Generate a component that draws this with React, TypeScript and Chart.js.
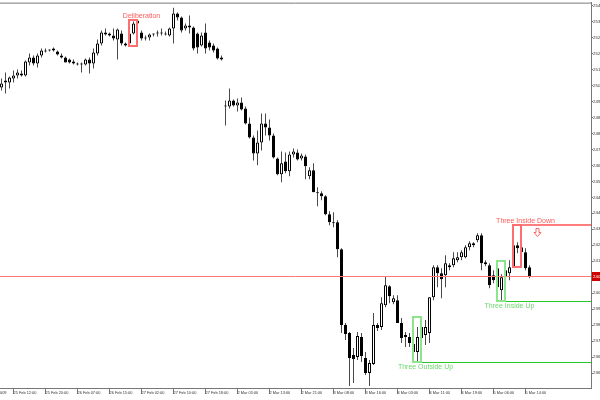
import React, { useEffect, useRef } from "react";
import { Chart, registerables } from "chart.js";

Chart.register(...registerables);

// ---- Hourly candles (price values) ----
const openP = [
  2503, 2505.5, 2505.5, 2507.5, 2509, 2510, 2509, 2515.5, 2518, 2515,
  2519, 2521, 2521.5, 2521.5, 2521, 2519, 2518, 2517, 2516, 2515,
  2515, 2514.5, 2517, 2515, 2520, 2525, 2530.5, 2530, 2529, 2527,
  2530, 2524, 2525, 2530, 2535, 2530.5, 2527.5, 2528, 2529.5, 2530,
  2530, 2530, 2529, 2532.5, 2540, 2538, 2532.5, 2533, 2533, 2530,
  2524, 2530.5, 2525.5, 2524, 2522.5, 2517, 2493.5, 2493.5, 2496.5, 2494,
  2495.5, 2492.5, 2485, 2478, 2470, 2475.5, 2485, 2483, 2479, 2467.5,
  2459.5, 2466, 2461, 2469.5, 2470.5, 2467.5, 2468.5, 2458.5, 2461.5, 2450.5,
  2450, 2448.5, 2439.5, 2435.5, 2435.5, 2422, 2384, 2380, 2369, 2368,
  2378, 2367.5, 2360, 2364.5, 2384, 2383, 2394, 2403.5, 2395.5, 2396.5,
  2385, 2379, 2378, 2374.5, 2370.5, 2377.5, 2379, 2380, 2398, 2413,
  2410, 2409, 2414, 2414, 2416.5, 2418, 2418, 2423, 2424, 2426.5,
  2429, 2415.5, 2414, 2409, 2412.5, 2401.5, 2408, 2410, 2413, 2424,
  2423, 2420.5, 2413,
];
const highP = [
  2507.5, 2510.5, 2508.5, 2511.5, 2512, 2511.5, 2516.5, 2520, 2519, 2520,
  2522.5, 2522.5, 2522, 2523, 2521.5, 2520, 2518.5, 2517.5, 2517, 2515.5,
  2515.5, 2517.5, 2518, 2522.5, 2527, 2531.5, 2532.5, 2530.5, 2532.5, 2532.5,
  2531.5, 2525.5, 2531, 2536, 2537, 2531.5, 2529, 2530, 2530, 2531.5,
  2532.5, 2531, 2533, 2543, 2540.5, 2538.5, 2535, 2539, 2533.5, 2530.5,
  2530.5, 2535, 2526.5, 2525, 2523, 2519, 2496.5, 2502.5, 2497, 2497.5,
  2498, 2493.5, 2488, 2479, 2481.5, 2490, 2490, 2487, 2480, 2468,
  2471, 2470.5, 2471, 2472.5, 2472, 2470, 2469.5, 2463, 2465, 2453,
  2451, 2449, 2441, 2440.5, 2436.5, 2422.5, 2385, 2380.5, 2372.5, 2380.5,
  2380, 2370.5, 2366.5, 2390, 2385, 2398, 2408.5, 2404, 2399, 2399,
  2387.5, 2380.5, 2380, 2376.5, 2383, 2388, 2386.5, 2398, 2414, 2414,
  2412.5, 2419, 2415, 2420.5, 2420.5, 2421.5, 2424, 2426, 2425.5, 2430,
  2430, 2416.5, 2415, 2411.5, 2416, 2409.5, 2414, 2416.5, 2434, 2425.5,
  2425, 2422.5, 2414,
];
const lowP = [
  2501.5, 2500, 2502.5, 2505.5, 2507.5, 2508.5, 2508.5, 2514, 2514, 2513,
  2518, 2520.5, 2521, 2521, 2519, 2517.5, 2515.5, 2515, 2514.5, 2514,
  2510.5, 2514, 2510, 2512.5, 2519, 2524, 2529, 2528.5, 2526.5, 2517,
  2524, 2523.5, 2524, 2529.5, 2534.5, 2526.5, 2526.5, 2526.5, 2528.5, 2528.5,
  2529, 2529, 2528.5, 2525, 2536.5, 2530.5, 2531.5, 2530, 2521.5, 2520,
  2523.5, 2520, 2521.5, 2520.5, 2517, 2516.5, 2484, 2492.5, 2493.5, 2491,
  2491.5, 2484.5, 2477.5, 2466.5, 2464, 2471.5, 2479, 2476.5, 2467.5, 2459,
  2455.5, 2460, 2458.5, 2468, 2466.5, 2466.5, 2457, 2457, 2450.5, 2443.5,
  2446.5, 2439, 2434, 2433, 2418, 2380, 2376.5, 2353.5, 2355, 2366.5,
  2365.5, 2359, 2353.5, 2364, 2381, 2381.5, 2393, 2395, 2394.5, 2385,
  2375, 2373, 2373, 2366.5, 2365.5, 2372.5, 2374, 2375, 2396.5, 2403,
  2397.5, 2403, 2411.5, 2413, 2415.5, 2416.5, 2417.5, 2421.5, 2423, 2425.5,
  2411.5, 2413.5, 2402.5, 2405, 2401.5, 2396, 2397, 2406.5, 2413, 2420,
  2418.5, 2411.5, 2407.5,
];
const closeP = [
  2505, 2506.5, 2508, 2509, 2510.5, 2509, 2516, 2518, 2515, 2519,
  2521.5, 2521.5, 2521.5, 2522.5, 2519.5, 2518, 2515.5, 2515.5, 2515, 2514.5,
  2514.5, 2517, 2515, 2520.5, 2525, 2530.5, 2529.5, 2529, 2527.5, 2532,
  2525, 2525, 2530, 2535, 2536.5, 2527.5, 2528, 2529.5, 2529.5, 2530,
  2530, 2529.5, 2532.5, 2540, 2538, 2531.5, 2534, 2534, 2522.5, 2523,
  2529, 2522.5, 2523, 2521.5, 2517.5, 2518, 2493.5, 2496.5, 2494, 2495.5,
  2492, 2485, 2478, 2470, 2475.5, 2485, 2483, 2479, 2468, 2459.5,
  2465, 2461, 2469.5, 2471, 2467, 2469, 2463.5, 2461.5, 2450.5, 2450,
  2448.5, 2439.5, 2435.5, 2435, 2422, 2384, 2379.5, 2367.5, 2367, 2378.5,
  2368.5, 2360, 2365, 2384, 2382.5, 2395, 2404, 2398.5, 2397.5, 2385,
  2377.5, 2378, 2375, 2370.5, 2378, 2383, 2383, 2398, 2413, 2410,
  2407, 2415, 2413, 2417.5, 2418, 2420.5, 2423, 2425, 2425, 2429,
  2415, 2414.5, 2404, 2406.5, 2403, 2408, 2411.5, 2413, 2424, 2422.5,
  2420.5, 2412.5, 2408.5,
];

// ---- Axis ticks ----
const xTickIndex = [3, 11, 19, 27, 35, 43, 51, 59, 67, 75, 83, 91, 99, 107, 115, 123, 131];
const xTickLabels = [
  "25 Feb 12:00", "25 Feb 20:00", "26 Feb 07:00", "26 Feb 15:00", "27 Feb 02:00",
  "27 Feb 10:00", "27 Feb 18:00", "2 Mar 05:00", "2 Mar 13:00", "2 Mar 21:00",
  "3 Mar 08:00", "3 Mar 16:00", "4 Mar 03:00", "4 Mar 11:00", "4 Mar 19:00",
  "5 Mar 06:00", "5 Mar 14:00",
];
const firstDateLabel = "25 Feb 2009";
const yTickValues = [
  2544, 2536, 2528, 2520, 2512, 2504, 2496, 2488, 2480, 2472, 2464, 2456,
  2448, 2440, 2432, 2424, 2416, 2408, 2400, 2392, 2384, 2376, 2368, 2360,
];

// ---- Candlestick pattern marks ----
const patternNames = ["Deliberation", "Three Outside Up", "Three Inside Up", "Three Inside Down"];
const patternStart = [32, 103, 124, 128];
const patternEnd = [34, 105, 126, 130];
const patternBullish = [false, true, true, false];
const patternExtended = [false, true, true, true];
const sellArrowIndex = [134];
const sellArrowPattern = [3];

const FONT = '"Liberation Sans", Arial, sans-serif';

const overlayPlugin = {
  id: "overlay",
  afterDatasetsDraw(chart: any) {
    const { ctx, chartArea: a } = chart;
    const x = chart.scales.x;
    const y = chart.scales.y;
    ctx.save();
    // top frame line
    ctx.strokeStyle = "#7a7a7a";
    ctx.lineWidth = 1;
    ctx.beginPath();
    ctx.moveTo(a.left, a.top + 0.5);
    ctx.lineTo(a.right, a.top + 0.5);
    ctx.stroke();

    // current price line
    const last = closeP[closeP.length - 1];
    const py = Math.round(y.getPixelForValue(last)) + 0.5;
    ctx.strokeStyle = "rgb(255,120,120)";
    ctx.beginPath();
    ctx.moveTo(a.left, py);
    ctx.lineTo(a.right, py);
    ctx.stroke();

    const hiOf: number[] = [];
    // patterns
    patternNames.forEach((name, k) => {
      const s = patternStart[k];
      const e = patternEnd[k];
      let hi = -Infinity;
      let lo = Infinity;
      for (let i = s; i <= e; i++) {
        hi = Math.max(hi, highP[i]);
        lo = Math.min(lo, lowP[i]);
      }
      hiOf[k] = hi;
      const bull = patternBullish[k];
      const x1 = Math.floor(x.getPixelForValue(s));
      const x2 = Math.floor(x.getPixelForValue(e));
      const yT = Math.round(y.getPixelForValue(hi));
      const yB = Math.round(y.getPixelForValue(lo));
      if (patternExtended[k]) {
        const ly = bull ? yB : yT;
        ctx.strokeStyle = bull ? "rgb(40,200,40)" : "rgb(255,125,125)";
        ctx.lineWidth = bull ? 1 : 2;
        ctx.beginPath();
        const off = bull ? 0.5 : 0;
        ctx.moveTo(x1, ly + off);
        ctx.lineTo(a.right, ly + off);
        ctx.stroke();
      }
      ctx.lineWidth = 2;
      ctx.strokeStyle = bull ? "rgb(140,228,140)" : "rgb(255,110,110)";
      ctx.strokeRect(x1, yT, x2 - x1, yB - yT);

      ctx.font = `7px ${FONT}`;
      ctx.textAlign = "center";
      ctx.fillStyle = bull ? "rgb(110,214,110)" : "rgb(255,90,90)";
      const tx = x.getPixelForValue(e + 1);
      if (bull) {
        ctx.textBaseline = "top";
        ctx.fillText(name, tx, yB + 1.5);
      } else {
        ctx.textBaseline = "bottom";
        ctx.fillText(name, tx, yT - 0.5);
      }
    });

    // sell arrow
    sellArrowIndex.forEach((ai, k) => {
      const ax = Math.floor(x.getPixelForValue(ai)) + 0.5;
      const top = Math.round(y.getPixelForValue(hiOf[sellArrowPattern[k]])) + 3.5;
      ctx.beginPath();
      ctx.moveTo(ax - 1.5, top);
      ctx.lineTo(ax + 1.5, top);
      ctx.lineTo(ax + 1.5, top + 4);
      ctx.lineTo(ax + 3.5, top + 4);
      ctx.lineTo(ax, top + 8);
      ctx.lineTo(ax - 3.5, top + 4);
      ctx.lineTo(ax - 1.5, top + 4);
      ctx.closePath();
      ctx.fillStyle = "#fff";
      ctx.fill();
      ctx.strokeStyle = "rgb(255,100,100)";
      ctx.lineWidth = 1;
      ctx.stroke();
    });

    // current price label
    ctx.fillStyle = "#d00000";
    ctx.fillRect(a.right + 1, py - 4.5, 12, 9);
    ctx.fillStyle = "#ffffff";
    ctx.font = `4.4px ${FONT}`;
    ctx.textAlign = "left";
    ctx.textBaseline = "middle";
    ctx.fillText(last.toFixed(1), a.right + 2, py);

    // first (partially hidden) date label
    ctx.fillStyle = "#333";
    ctx.font = `3.9px ${FONT}`;
    ctx.textAlign = "right";
    ctx.textBaseline = "top";
    ctx.fillText(firstDateLabel, a.left + 6.5, a.bottom + 3);
    ctx.restore();
  },
};

export default function App() {
  const ref = useRef<HTMLCanvasElement | null>(null);

  useEffect(() => {
    const idx = openP.map((_, i) => i);
    const bodyData = idx.map((i) => ({ x: i, y: [openP[i], closeP[i]] }));
    const wickData = idx.map((i) => ({ x: i, y: [lowP[i], highP[i]] }));
    const bodyColors = idx.map((i) => (closeP[i] >= openP[i] ? "#ffffff" : "#000000"));

    const chart = new Chart(ref.current as HTMLCanvasElement, {
      type: "bar",
      data: {
        datasets: [
          {
            data: bodyData as any,
            backgroundColor: bodyColors,
            borderColor: "#000000",
            borderWidth: 1,
            borderSkipped: false,
            barThickness: 3,
            minBarLength: 1,
            inflateAmount: 0,
            stack: "c",
            order: 0,
          } as any,
          {
            data: wickData as any,
            backgroundColor: "#4a4a4a",
            borderWidth: 0,
            barThickness: 1,
            inflateAmount: 0,
            stack: "c",
            order: 1,
          } as any,
        ],
      },
      options: {
        animation: false,
        responsive: false,
        devicePixelRatio: 1,
        layout: { padding: { top: 2, left: 0, right: 0, bottom: 0 } },
        plugins: { legend: { display: false }, tooltip: { enabled: false } },
        scales: {
          x: {
            type: "linear",
            position: "bottom",
            offset: false,
            min: -0.375,
            max: 147.375,
            afterBuildTicks: (s: any) => {
              s.ticks = xTickIndex.map((v) => ({ value: v }));
            },
            afterFit: (s: any) => {
              s.height = 12;
            },
            ticks: {
              autoSkip: false,
              maxRotation: 0,
              minRotation: 0,
              align: "start",
              padding: -3.5,
              color: "#333",
              font: { family: FONT, size: 3.9 },
              callback: (_v: any, i: number) => xTickLabels[i],
            },
            grid: { drawOnChartArea: false, offset: false, tickLength: 6, color: "#777" },
            border: { color: "#777" },
          } as any,
          y: {
            type: "linear",
            position: "right",
            stacked: false,
            min: 2352.5,
            max: 2545.5,
            afterBuildTicks: (s: any) => {
              s.ticks = yTickValues.map((v) => ({ value: v }));
            },
            afterFit: (s: any) => {
              s.width = 9;
            },
            ticks: {
              autoSkip: false,
              padding: 0,
              color: "#333",
              font: { family: FONT, size: 4.4 },
              callback: (v: any) => String(v),
            },
            grid: { drawOnChartArea: false, tickLength: 2, color: "#777" },
            border: { color: "#777" },
          } as any,
        },
      },
      plugins: [overlayPlugin],
    });
    return () => chart.destroy();
  }, []);

  return (
    <div style={{ position: "fixed", left: 0, top: 0, width: 600, height: 400, background: "#fff" }}>
      <canvas ref={ref} width={600} height={400} style={{ display: "block", width: 600, height: 400 }} />
    </div>
  );
}
